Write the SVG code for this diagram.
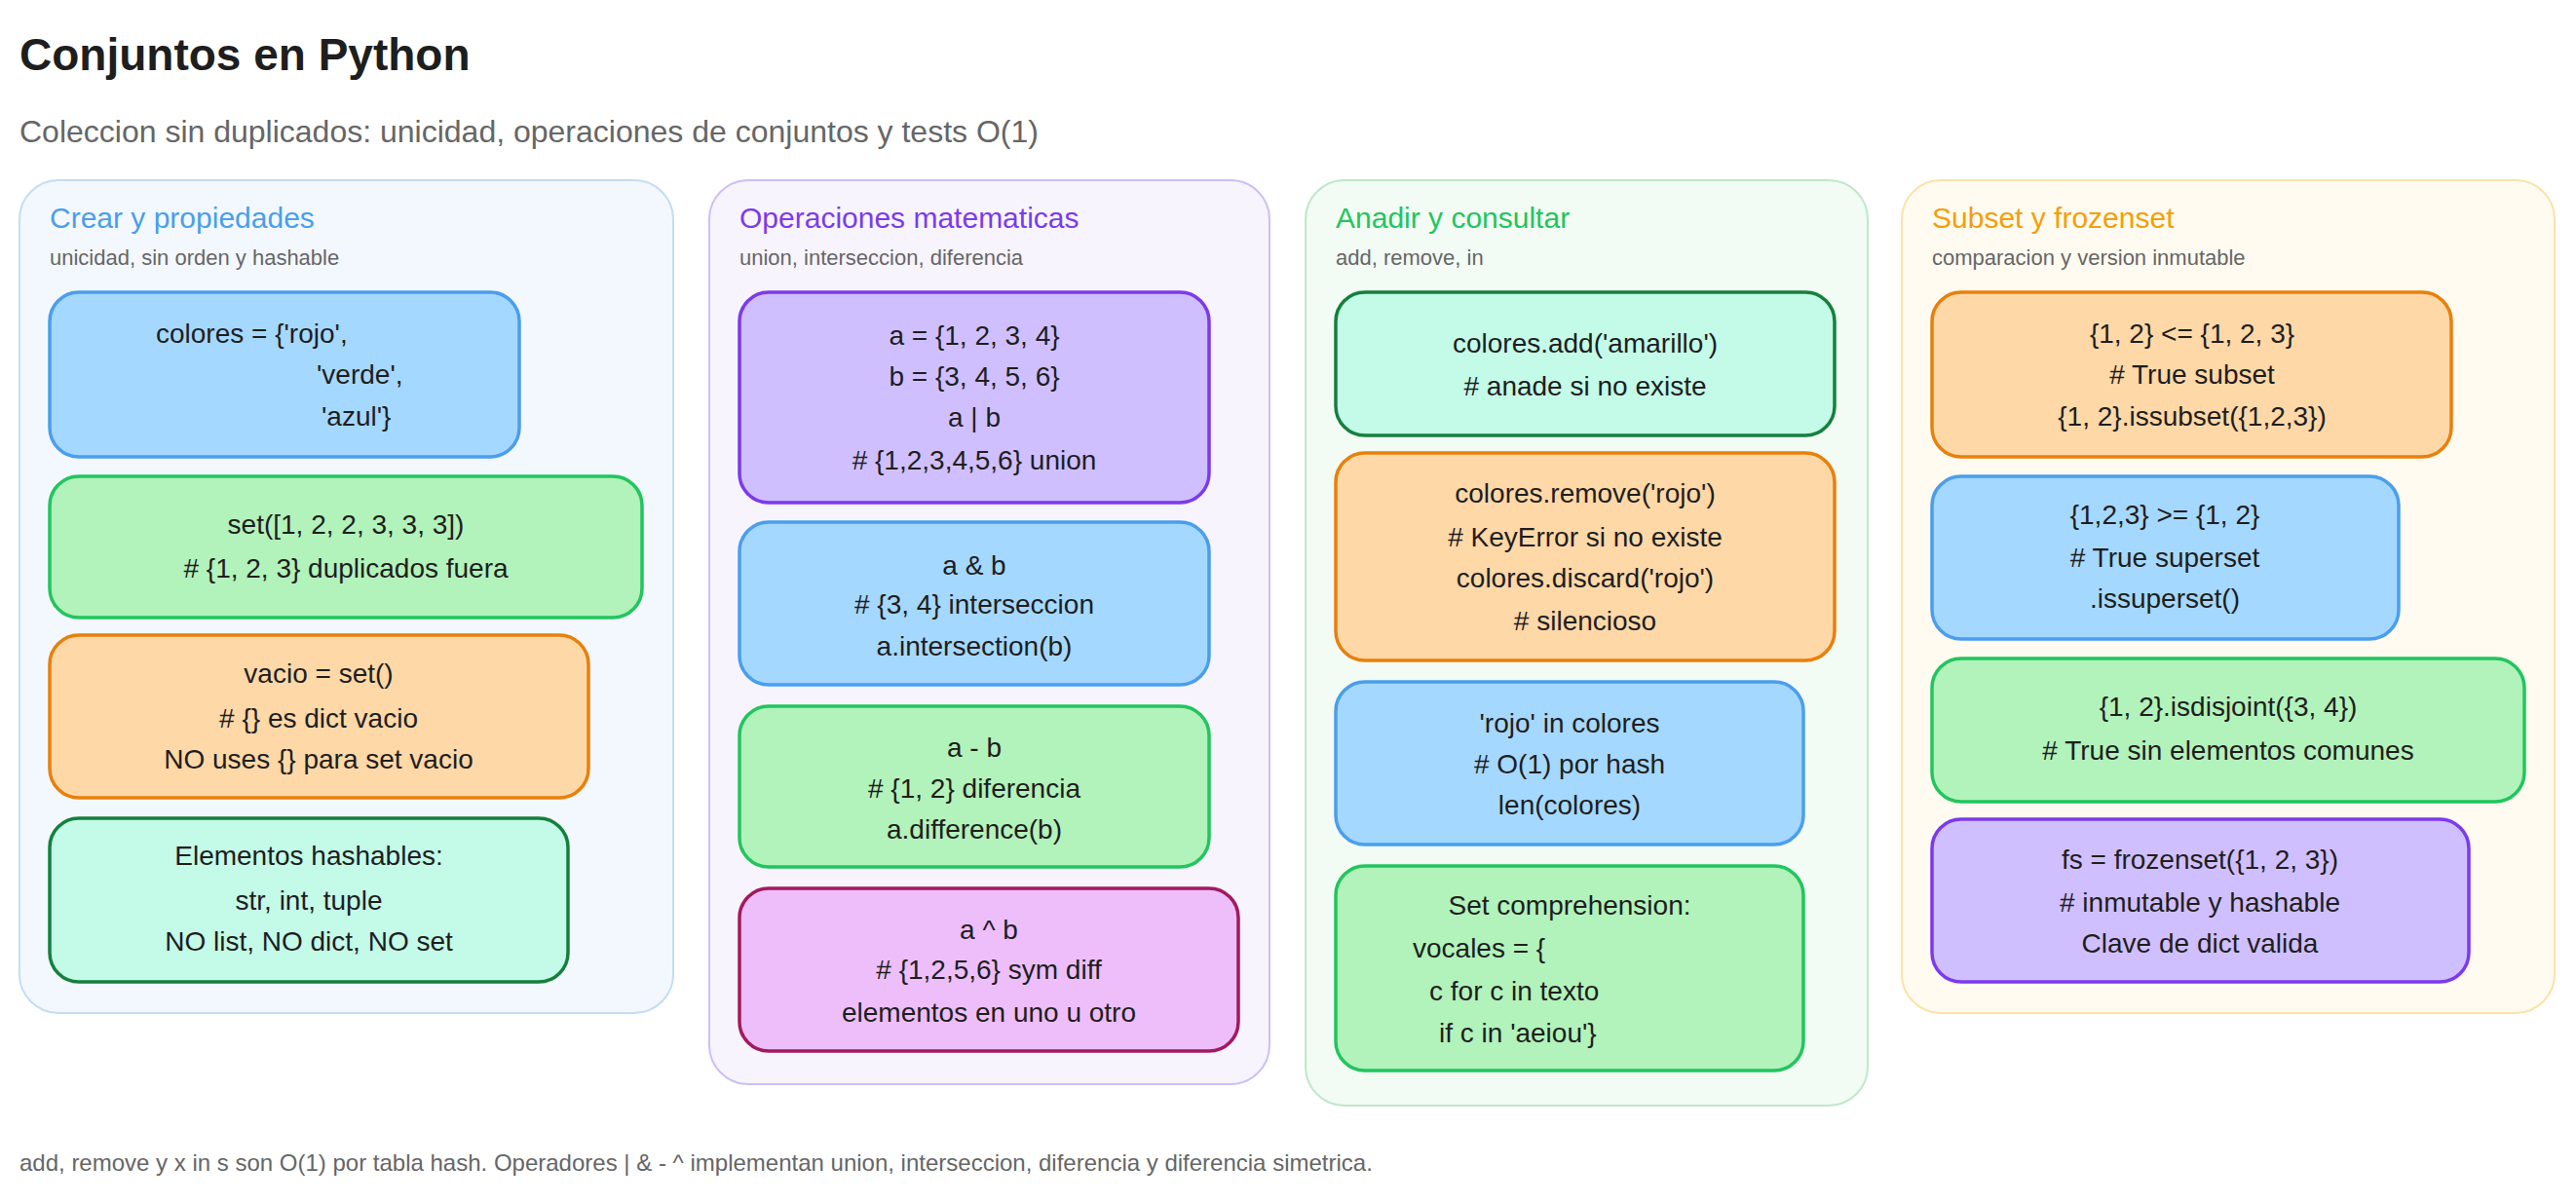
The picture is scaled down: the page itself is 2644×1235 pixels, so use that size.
<svg xmlns="http://www.w3.org/2000/svg" width="2644" height="1235" viewBox="0 0 2644 1235">
<style>
text{font-family:"Liberation Sans","DejaVu Sans",sans-serif;fill:#1e1e1e}
.t{font-size:46px;font-weight:bold}
.s{font-size:32px;fill:#666}
.h{font-size:30px}
.hs{font-size:22px;fill:#666}
.n text{font-size:28px;text-anchor:middle;dominant-baseline:central}
.n rect{stroke-width:3.5}
.col{stroke-width:2}
.f{font-size:24px;fill:#666}
.blue{fill:#a5d8ff;stroke:#4a9eed}
.green{fill:#b2f2bb;stroke:#22c55e}
.orange{fill:#ffd8a8;stroke:#e8800c}
.mint{fill:#c3fae8;stroke:#15803d}
.purple{fill:#d0bfff;stroke:#7c3aed}
.pink{fill:#eebefa;stroke:#a21a5e}
</style>
<text class="t" x="20" y="72">Conjuntos en Python</text>
<text class="s" x="20" y="146">Coleccion sin duplicados: unicidad, operaciones de conjuntos y tests O(1)</text>

<g id="col1"><rect class="col" x="20" y="185" width="671" height="855" rx="40" fill="#f3f8fe" stroke="#c5dcf5"/>
<text class="h" x="51" y="234" fill="#4a9eed" style="fill:#4a9eed">Crear y propiedades</text>
<text class="hs" x="51" y="272">unicidad, sin orden y hashable</text></g>
<g id="col2"><rect class="col" x="728" y="185" width="575" height="928" rx="40" fill="#f7f4fe" stroke="#cdbff5"/>
<text class="h" x="759" y="234" style="fill:#7c3aed">Operaciones matematicas</text>
<text class="hs" x="759" y="272">union, interseccion, diferencia</text></g>
<g id="col3"><rect class="col" x="1340" y="185" width="577" height="950" rx="40" fill="#f2fbf4" stroke="#bfe8c9"/>
<text class="h" x="1371" y="234" style="fill:#22c55e">Anadir y consultar</text>
<text class="hs" x="1371" y="272">add, remove, in</text></g>
<g id="col4"><rect class="col" x="1952" y="185" width="670" height="855" rx="40" fill="#fffbf0" stroke="#fbe2a8"/>
<text class="h" x="1983" y="234" style="fill:#f59e0b">Subset y frozenset</text>
<text class="hs" x="1983" y="272">comparacion y version inmutable</text></g>

<g id="n1" class="n"><rect class="blue" x="51" y="300" width="482" height="169" rx="30"/>
<text x="160" y="342" style="text-anchor:start">colores = {'rojo',</text>
<text x="325" y="384" style="text-anchor:start">'verde',</text>
<text x="330" y="427" style="text-anchor:start">'azul'}</text></g>
<g id="n2" class="n"><rect class="green" x="51" y="489" width="608" height="145" rx="30"/>
<text x="355" y="538">set([1, 2, 2, 3, 3, 3])</text><text x="355" y="583"># {1, 2, 3} duplicados fuera</text></g>
<g id="n3" class="n"><rect class="orange" x="51" y="652" width="553" height="167" rx="30"/>
<text x="327" y="691">vacio = set()</text><text x="327" y="737"># {} es dict vacio</text><text x="327" y="779">NO uses {} para set vacio</text></g>
<g id="n4" class="n"><rect class="mint" x="51" y="840" width="532" height="168" rx="30"/>
<text x="317" y="878">Elementos hashables:</text><text x="317" y="924">str, int, tuple</text><text x="317" y="966">NO list, NO dict, NO set</text></g>

<g id="n5" class="n"><rect class="purple" x="759" y="300" width="482" height="216" rx="30"/>
<text x="1000" y="344">a = {1, 2, 3, 4}</text><text x="1000" y="386">b = {3, 4, 5, 6}</text><text x="1000" y="428">a | b</text><text x="1000" y="472"># {1,2,3,4,5,6} union</text></g>
<g id="n6" class="n"><rect class="blue" x="759" y="536" width="482" height="167" rx="30"/>
<text x="1000" y="580">a &amp; b</text><text x="1000" y="620"># {3, 4} interseccion</text><text x="1000" y="663">a.intersection(b)</text></g>
<g id="n7" class="n"><rect class="green" x="759" y="725" width="482" height="165" rx="30"/>
<text x="1000" y="767">a - b</text><text x="1000" y="809"># {1, 2} diferencia</text><text x="1000" y="851">a.difference(b)</text></g>
<g id="n8" class="n"><rect class="pink" x="759" y="912" width="512" height="167" rx="30"/>
<text x="1015" y="954">a ^ b</text><text x="1015" y="995"># {1,2,5,6} sym diff</text><text x="1015" y="1039">elementos en uno u otro</text></g>

<g id="n9" class="n"><rect class="mint" x="1371" y="300" width="512" height="147" rx="30"/>
<text x="1627" y="352">colores.add('amarillo')</text><text x="1627" y="396"># anade si no existe</text></g>
<g id="n10" class="n"><rect class="orange" x="1371" y="465" width="512" height="213" rx="30"/>
<text x="1627" y="506">colores.remove('rojo')</text><text x="1627" y="551"># KeyError si no existe</text><text x="1627" y="593">colores.discard('rojo')</text><text x="1627" y="637"># silencioso</text></g>
<g id="n11" class="n"><rect class="blue" x="1371" y="700" width="480" height="167" rx="30"/>
<text x="1611" y="742">'rojo' in colores</text><text x="1611" y="784"># O(1) por hash</text><text x="1611" y="826">len(colores)</text></g>
<g id="n12" class="n"><rect class="green" x="1371" y="889" width="480" height="210" rx="30"/>
<text x="1611" y="929">Set comprehension:</text>
<text x="1450" y="973" style="text-anchor:start">vocales = {</text>
<text x="1467" y="1017" style="text-anchor:start">c for c in texto</text>
<text x="1477" y="1060" style="text-anchor:start">if c in 'aeiou'}</text></g>

<g id="n13" class="n"><rect class="orange" x="1983" y="300" width="533" height="169" rx="30"/>
<text x="2250" y="342">{1, 2} &lt;= {1, 2, 3}</text><text x="2250" y="384"># True subset</text><text x="2250" y="427">{1, 2}.issubset({1,2,3})</text></g>
<g id="n14" class="n"><rect class="blue" x="1983" y="489" width="479" height="167" rx="30"/>
<text x="2222" y="528">{1,2,3} &gt;= {1, 2}</text><text x="2222" y="572"># True superset</text><text x="2222" y="614">.issuperset()</text></g>
<g id="n15" class="n"><rect class="green" x="1983" y="676" width="608" height="147" rx="30"/>
<text x="2287" y="725">{1, 2}.isdisjoint({3, 4})</text><text x="2287" y="770"># True sin elementos comunes</text></g>
<g id="n16" class="n"><rect class="purple" x="1983" y="841" width="551" height="167" rx="30"/>
<text x="2258" y="882">fs = frozenset({1, 2, 3})</text><text x="2258" y="926"># inmutable y hashable</text><text x="2258" y="968">Clave de dict valida</text></g>

<g id="connectors"></g>
<text class="f" x="20" y="1202">add, remove y x in s son O(1) por tabla hash. Operadores | &amp; - ^ implementan union, interseccion, diferencia y diferencia simetrica.</text>
</svg>
